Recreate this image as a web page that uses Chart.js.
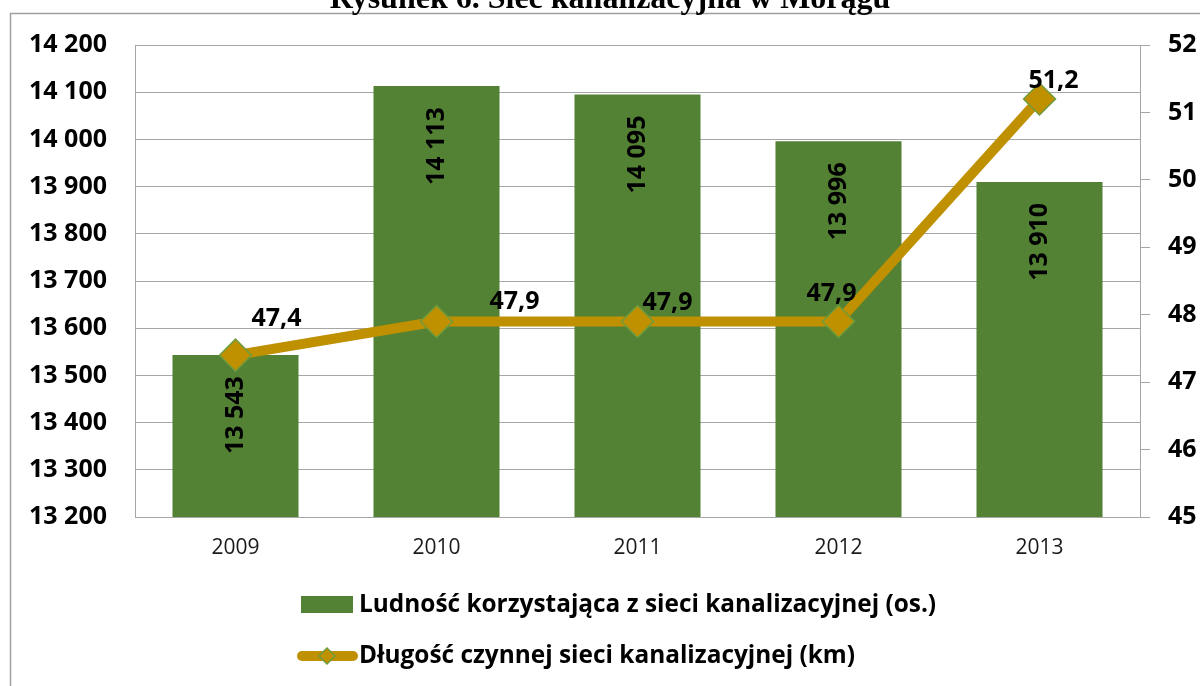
<!DOCTYPE html>
<html>
<head>
<meta charset="utf-8">
<script src="https://cdn.jsdelivr.net/npm/chart.js@4.4.1/dist/chart.umd.min.js"></script>
<style>
  html, body { margin: 0; padding: 0; background: #fff; }
  #wrap { width: 1200px; height: 686px; }
</style>
</head>
<body>
<div id="wrap"><canvas id="myChart" width="1200" height="686"></canvas></div>
<script>
// chart data
const years = ['2009', '2010', '2011', '2012', '2013'];
const population = [13543, 14113, 14095, 13996, 13910];
const networkKm = [47.4, 47.9, 47.9, 47.9, 51.2];
const titleText = 'Rysunek 6. Sieć kanalizacyjna w Morągu';
const populationLabel = 'Ludność korzystająca z sieci kanalizacyjnej (os.)';
const networkLabel = 'Długość czynnej sieci kanalizacyjnej (km)';

const GREEN = '#548235';
const GOLD = '#BF9000';
const MARKER_EDGE = '#6E9C3C';
const GRID = '#a6a6a6';
const FONT = '"Open Sans", "Noto Sans", sans-serif';

const spaced = v => String(v).replace(/\B(?=(\d{3})+(?!\d))/g, ' ');
const comma = v => v.toFixed(1).replace('.', ',');

// hand-placed label nudges, as in the original
const lineLabelShift = [[41, -36], [78, -20], [30, -19], [-7, -28], [14, -18]];

const decor = {
    id: 'decor',
    beforeDraw(chart) {
        const ctx = chart.ctx;
        ctx.save();
        ctx.fillStyle = '#fff';
        ctx.fillRect(0, 0, chart.width, chart.height);
        ctx.strokeStyle = '#a0a0a0';
        ctx.lineWidth = 1.5;
        ctx.beginPath();
        ctx.moveTo(10.5, chart.height);
        ctx.lineTo(10.5, 13.5);
        ctx.lineTo(chart.width, 13.5);
        ctx.stroke();
        // title, cut off by the page edge
        ctx.fillStyle = '#000';
        ctx.font = 'bold 32px "Liberation Serif", serif';
        ctx.textAlign = 'center';
        ctx.textBaseline = 'alphabetic';
        ctx.fillText(titleText, 610, 8);
        ctx.restore();
    },
    afterDatasetsDraw(chart) {
        const ctx = chart.ctx;
        ctx.save();
        ctx.fillStyle = '#000';
        ctx.font = 'bold 25px ' + FONT;
        ctx.textAlign = 'center';
        ctx.textBaseline = 'middle';
        chart.getDatasetMeta(1).data.forEach((el, i) => {
            ctx.save();
            ctx.translate(el.x, el.y + 60);
            ctx.rotate(-Math.PI / 2);
            ctx.fillText(spaced(population[i]), 0, 0);
            ctx.restore();
        });
        chart.getDatasetMeta(0).data.forEach((el, i) => {
            const s = lineLabelShift[i];
            ctx.fillText(comma(networkKm[i]), el.x + s[0], el.y + s[1]);
        });
        ctx.restore();
    },
    afterDraw(chart) {
        const ctx = chart.ctx;
        ctx.save();
        // legend
        ctx.fillStyle = GREEN;
        ctx.fillRect(301, 596, 52, 17);
        ctx.strokeStyle = GOLD;
        ctx.lineWidth = 10;
        ctx.lineCap = 'round';
        ctx.beginPath();
        ctx.moveTo(302, 656);
        ctx.lineTo(353, 656);
        ctx.stroke();
        ctx.beginPath();
        ctx.moveTo(327, 648);
        ctx.lineTo(335, 656);
        ctx.lineTo(327, 664);
        ctx.lineTo(319, 656);
        ctx.closePath();
        ctx.fillStyle = GOLD;
        ctx.fill();
        ctx.lineWidth = 1.5;
        ctx.strokeStyle = MARKER_EDGE;
        ctx.stroke();
        ctx.fillStyle = '#000';
        ctx.font = 'bold 24.4px ' + FONT;
        ctx.textAlign = 'left';
        ctx.textBaseline = 'middle';
        ctx.fillText(populationLabel, 359, 605);
        ctx.fillText(networkLabel, 359, 656);
        ctx.restore();
    }
};

const ctx = document.getElementById('myChart').getContext('2d');
// eslint-disable-next-line no-undef
const chart = new Chart(ctx, {
    data: {
        labels: years,
        datasets: [{
            type: 'line',
            label: networkLabel,
            data: networkKm,
            yAxisID: 'y1',
            order: 0,
            borderColor: GOLD,
            borderWidth: 10,
            borderJoinStyle: 'round',
            tension: 0,
            pointStyle: 'rectRot',
            pointRadius: 16,
            pointBackgroundColor: GOLD,
            pointBorderColor: MARKER_EDGE,
            pointBorderWidth: 1.5
        }, {
            type: 'bar',
            label: populationLabel,
            data: population,
            yAxisID: 'y',
            order: 1,
            backgroundColor: GREEN,
            barPercentage: 0.627,
            categoryPercentage: 1
        }]
    },
    options: {
        responsive: false,
        animation: false,
        layout: { padding: { top: 45, left: 0, right: 0, bottom: 0 } },
        plugins: {
            legend: { display: false },
            tooltip: { enabled: false }
        },
        scales: {
            x: {
                grid: { display: true, drawOnChartArea: false, drawTicks: false, color: GRID },
                border: { color: GRID },
                ticks: { color: '#1a1a1a', padding: 18, font: { family: FONT, size: 21 } },
                afterFit: s => { s.height = 169; }
            },
            y: {
                position: 'left',
                min: 13200,
                max: 14200,
                ticks: {
                    stepSize: 100,
                    color: '#000',
                    padding: 28,
                    font: { family: FONT, size: 25, weight: 'bold' },
                    callback: v => spaced(v)
                },
                grid: { color: GRID, lineWidth: 1, drawTicks: false },
                border: { color: GRID },
                afterFit: s => { s.width = 135; }
            },
            y1: {
                position: 'right',
                min: 45,
                max: 52,
                ticks: {
                    stepSize: 1,
                    color: '#000',
                    padding: 18,
                    font: { family: FONT, size: 25, weight: 'bold' }
                },
                grid: { drawOnChartArea: false, color: GRID, tickLength: 10 },
                border: { color: GRID },
                afterFit: s => { s.width = 60; }
            }
        }
    },
    plugins: [decor]
});
</script>
</body>
</html>
